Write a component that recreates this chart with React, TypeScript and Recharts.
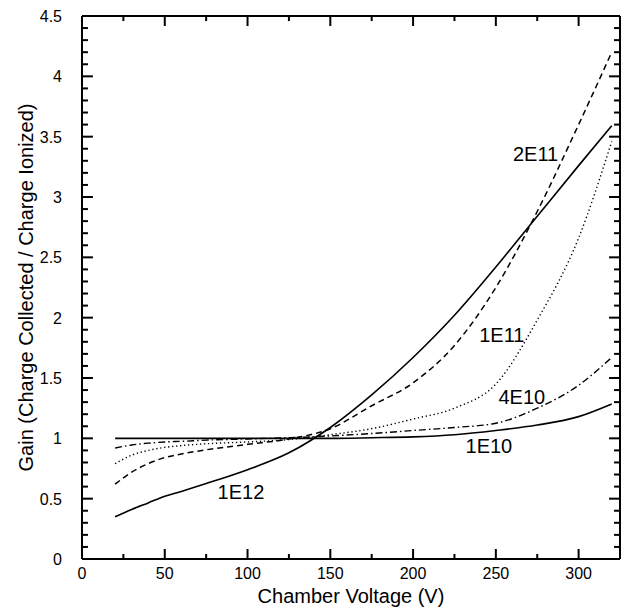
import React from 'react'
import { LineChart, Line, XAxis, YAxis, ReferenceDot, ReferenceLine } from 'recharts'

const voltages = [20, 30, 40, 50, 60, 75, 100, 125, 150, 175, 200, 225, 250, 275, 300, 320]

const gain1E12 = [0.35, 0.41, 0.465, 0.52, 0.56, 0.625, 0.74, 0.88, 1.09, 1.36, 1.67, 2.02, 2.42, 2.84, 3.26, 3.59]
const gain2E11 = [0.62, 0.72, 0.79, 0.84, 0.87, 0.905, 0.95, 0.995, 1.08, 1.27, 1.46, 1.77, 2.25, 2.88, 3.6, 4.2]
const gain1E11 = [0.79, 0.86, 0.9, 0.925, 0.94, 0.955, 0.97, 0.99, 1.03, 1.08, 1.16, 1.25, 1.45, 1.98, 2.66, 3.46]
const gain4E10 = [0.92, 0.945, 0.96, 0.97, 0.975, 0.985, 0.995, 1.005, 1.02, 1.04, 1.065, 1.09, 1.125, 1.25, 1.44, 1.67]
const gain1E10 = [1.0, 1.0, 1.0, 1.0, 1.0, 1.0, 1.0, 1.0, 1.0, 1.005, 1.012, 1.03, 1.065, 1.11, 1.18, 1.285]

const xMajor = [0, 50, 100, 150, 200, 250, 300]
const xMinor = [25, 75, 125, 175, 225, 275]
const yMajor = [0, 0.5, 1, 1.5, 2, 2.5, 3, 3.5, 4, 4.5]
const yMinor = [
  0.1, 0.2, 0.3, 0.4, 0.6, 0.7, 0.8, 0.9, 1.1, 1.2, 1.3, 1.4, 1.6, 1.7, 1.8, 1.9,
  2.1, 2.2, 2.3, 2.4, 2.6, 2.7, 2.8, 2.9, 3.1, 3.2, 3.3, 3.4, 3.6, 3.7, 3.8, 3.9,
  4.1, 4.2, 4.3, 4.4,
]

const annotations = [
  { text: '2E11', x: 274, y: 3.355 },
  { text: '1E11', x: 253.6, y: 1.856 },
  { text: '4E10', x: 265.7, y: 1.342 },
  { text: '1E10', x: 245.8, y: 0.936 },
  { text: '1E12', x: 96, y: 0.555 },
]

const data = voltages.map((v, i) => ({
  v,
  g1E12: gain1E12[i],
  g2E11: gain2E11[i],
  g1E11: gain1E11[i],
  g4E10: gain4E10[i],
  g1E10: gain1E10[i],
}))

const X_MAX = 325
const Y_MAX = 4.5
// inward tick lengths in axis units (~10/5 px vertical, ~11/6 px horizontal)
const XT_MAJOR = 0.083
const XT_MINOR = 0.042
const YT_MAJOR = 6.6
const YT_MINOR = 3.6

const FONT = '"Liberation Sans", Arial, sans-serif'

const bottomLabel = ({ x, y, payload }: any) => (
  <text x={x} y={y + 20} textAnchor="middle" fontSize={16} fontFamily={FONT} fill="#000">
    {payload.value}
  </text>
)

const leftLabel = ({ x, y, payload }: any) => (
  <text x={x - 20} y={y + 6} textAnchor="end" fontSize={16} fontFamily={FONT} fill="#000">
    {payload.value}
  </text>
)

const tickStroke = { stroke: '#000', strokeWidth: 2 }
const frameStroke = { stroke: '#000', strokeWidth: 2 }

export default function App() {
  const xTickLines = [
    ...xMajor.map((t) => ({ t, len: XT_MAJOR })),
    ...xMinor.map((t) => ({ t, len: XT_MINOR })),
  ]
  const yTickLines = [
    ...yMajor.map((t) => ({ t, len: YT_MAJOR })),
    ...yMinor.map((t) => ({ t, len: YT_MINOR })),
  ]
  return (
    <div style={{ position: 'absolute', left: 0, top: 0, background: '#fff' }}>
      <LineChart width={626} height={612} data={data} margin={{ top: 16, right: 6, left: 0, bottom: 0 }}>
        <XAxis
          dataKey="v"
          type="number"
          domain={[0, X_MAX]}
          ticks={xMajor}
          interval={0}
          tickSize={0}
          tickMargin={0}
          tickLine={false}
          tick={bottomLabel}
          axisLine={frameStroke}
          height={53}
          label={{
            content: ({ viewBox }: any) => (
              <text
                x={viewBox.x + viewBox.width / 2}
                y={viewBox.y + 44}
                textAnchor="middle"
                fontSize={20}
                fontFamily={FONT}
                fill="#000"
              >
                Chamber Voltage (V)
              </text>
            ),
          }}
        />
        <YAxis
          type="number"
          domain={[0, Y_MAX]}
          ticks={yMajor}
          interval={0}
          tickSize={0}
          tickMargin={0}
          tickLine={false}
          tick={leftLabel}
          axisLine={frameStroke}
          width={82}
          label={{
            content: ({ viewBox }: any) => {
              const cx = viewBox.x + 26
              const cy = viewBox.y + viewBox.height / 2
              return (
                <text
                  x={cx}
                  y={cy}
                  transform={`rotate(-90 ${cx} ${cy})`}
                  textAnchor="middle"
                  dominantBaseline="central"
                  fontSize={20}
                  fontFamily={FONT}
                  fill="#000"
                >
                  Gain (Charge Collected / Charge Ionized)
                </text>
              )
            },
          }}
        />
        <ReferenceLine y={Y_MAX} {...frameStroke} />
        <ReferenceLine x={X_MAX} {...frameStroke} />
        {xTickLines.map(({ t, len }) => (
          <ReferenceLine key={`xb${t}`} segment={[{ x: t, y: 0 }, { x: t, y: len }]} {...tickStroke} />
        ))}
        {xTickLines.map(({ t, len }) => (
          <ReferenceLine key={`xt${t}`} segment={[{ x: t, y: Y_MAX }, { x: t, y: Y_MAX - len }]} {...tickStroke} />
        ))}
        {yTickLines.map(({ t, len }) => (
          <ReferenceLine key={`yl${t}`} segment={[{ x: 0, y: t }, { x: len, y: t }]} {...tickStroke} />
        ))}
        {yTickLines.map(({ t, len }) => (
          <ReferenceLine key={`yr${t}`} segment={[{ x: X_MAX, y: t }, { x: X_MAX - len, y: t }]} {...tickStroke} />
        ))}
        <Line dataKey="g1E12" type="monotone" stroke="#000" strokeWidth={1.6} dot={false} activeDot={false} isAnimationActive={false} />
        <Line dataKey="g2E11" type="monotone" stroke="#000" strokeWidth={1.5} strokeDasharray="6 4" dot={false} activeDot={false} isAnimationActive={false} />
        <Line dataKey="g1E11" type="monotone" stroke="#000" strokeWidth={1.4} strokeDasharray="1.3 2.7" dot={false} activeDot={false} isAnimationActive={false} />
        <Line dataKey="g4E10" type="monotone" stroke="#000" strokeWidth={1.4} strokeDasharray="7 3 1.5 3" dot={false} activeDot={false} isAnimationActive={false} />
        <Line dataKey="g1E10" type="monotone" stroke="#000" strokeWidth={1.6} dot={false} activeDot={false} isAnimationActive={false} />
        {annotations.map((a) => (
          <ReferenceDot
            key={a.text}
            x={a.x}
            y={a.y}
            r={0}
            fill="none"
            stroke="none"
            label={{ value: a.text, position: 'center', fontSize: 20, fill: '#000', fontFamily: FONT }}
          />
        ))}
      </LineChart>
    </div>
  )
}
